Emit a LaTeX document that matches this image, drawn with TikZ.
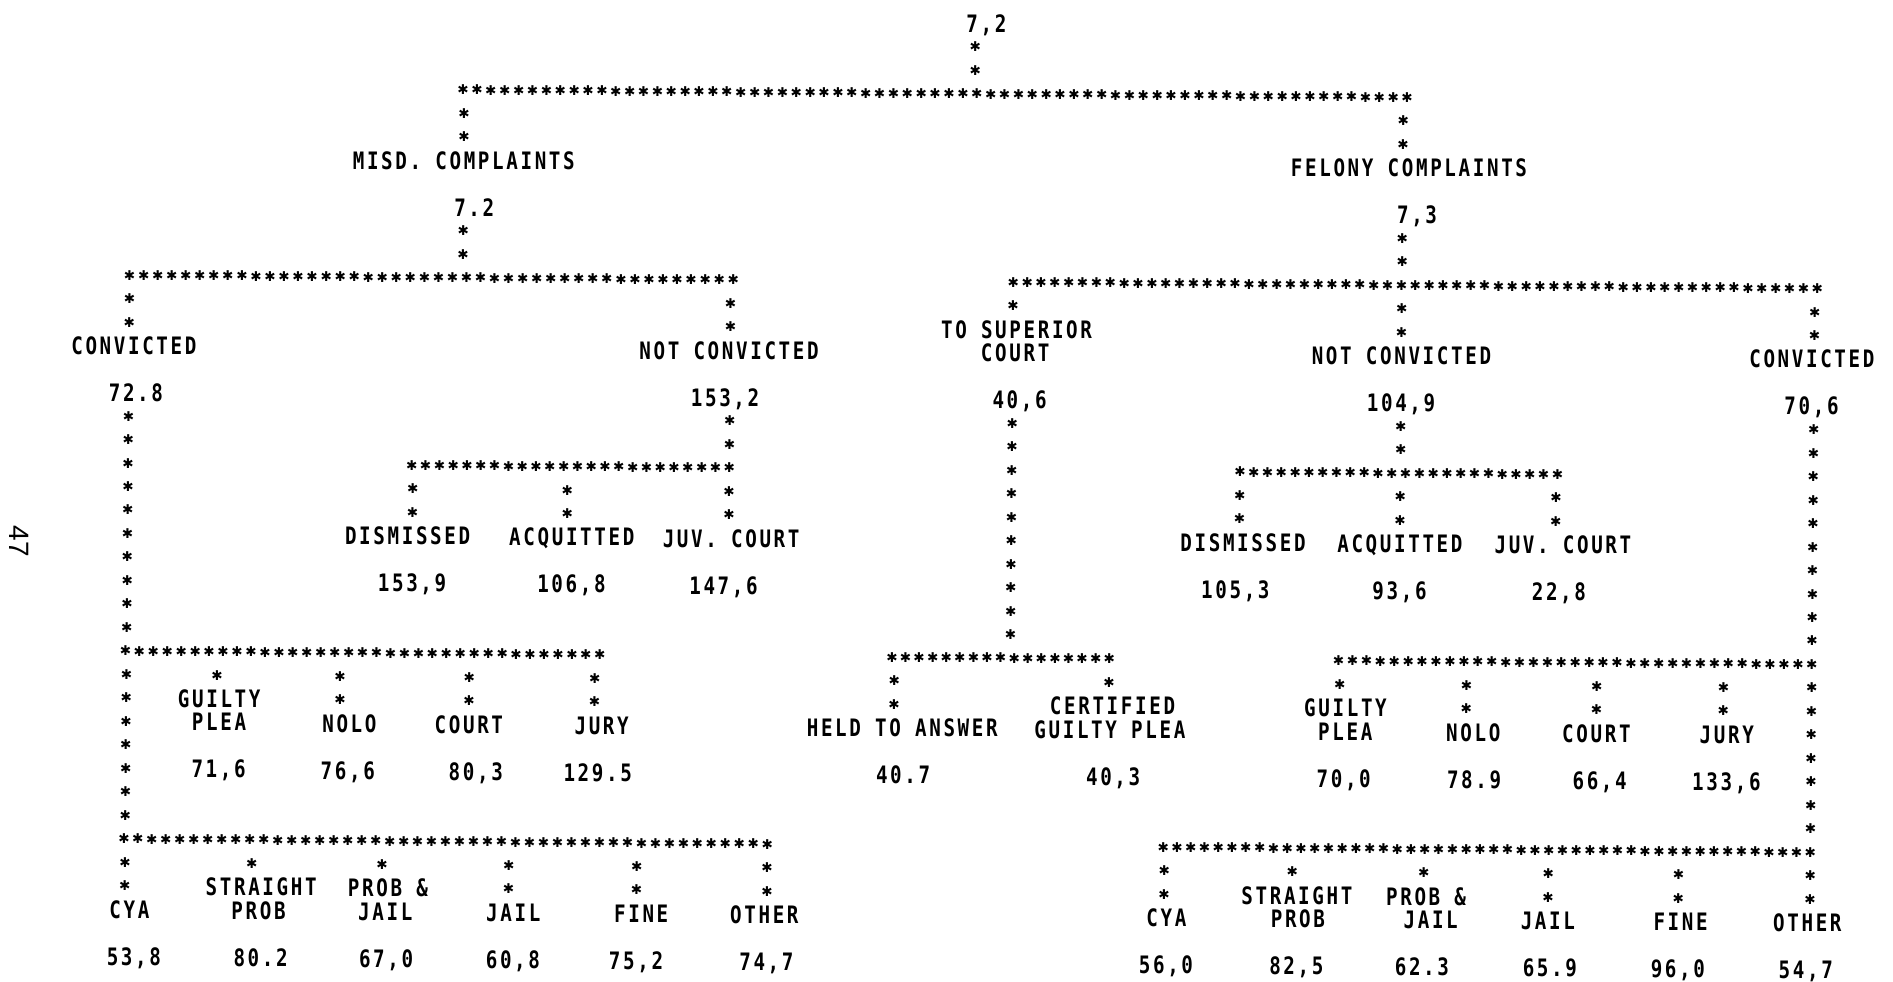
\documentclass[tikz,border=0pt]{standalone}
\usepackage{fontspec}
\newfontfamily\lpfont[FakeStretch=0.8, LetterSpace=11]{DejaVu Sans Mono}
\newfontfamily\astfont{DejaVu Sans}
\newfontfamily\pgfont{Liberation Sans}
\tikzset{
  lbl/.style={font=\lpfont\bfseries\fontsize{24}{24}\selectfont, inner sep=0pt, anchor=base, yshift=-8.75pt},
  ast/.style={font=\astfont\bfseries\fontsize{13.5}{13.5}\selectfont, inner sep=0pt, anchor=center},
  pgnum/.style={font=\pgfont\fontsize{28}{28}\selectfont, inner sep=0pt, rotate=-90},
}
\newcommand\LY[1]{15+19.45*(#1)}
\newcommand\st{✱}
% horizontal run of asterisks: name, x1, x2, line
\newcommand\hstars[4]{%
  \pgfmathtruncatemacro\nst{round((#3-#2)/11.5)}%
  \pgfmathsetmacro\stp{(#3-#2)/\nst}%
  \foreach \i in {0,...,\nst}{\node[ast] (#1-\i) at ({#2+\stp*\i},{\LY{#4}}) {\st};}%
}
% vertical run of asterisks: name, x, first line, last line
\newcommand\vstars[4]{%
  \foreach \k in {#3,...,#4}{\node[ast] (#1-\k) at (#2,{\LY{\k}}) {\st};}%
}
\begin{document}
\begin{tikzpicture}[x=1.20727pt,y=-1.20787pt]
\fill[white] (0,0) rectangle (1568,813);
\useasboundingbox (0,0) rectangle (1568,813);
\node[pgnum] (pg) at (16,448) {47};
\begin{scope}[rotate around={-0.46:(250,400)}]
% ---------- top ----------
\node[lbl] (top) at (814,{\LY{0}}) {7,2};
\vstars{t}{805}{1}{2}
\hstars{rA}{381}{1163}{3}
% ---------- misdemeanour branch ----------
\vstars{m}{382}{4}{5}
\node[lbl] (misd) at (382,{\LY{6}}) {MISD. COMPLAINTS};
\node[lbl] (misdv) at (391,{\LY{8}}) {7.2};
\vstars{mv}{382}{9}{10}
\hstars{rB}{106}{606}{11}
\vstars{lc}{106}{12}{13}
\node[lbl] (conv) at (110,{\LY{14}}) {CONVICTED};
\vstars{nc}{604}{12}{13}
\node[lbl] (nconv) at (603,{\LY{14}}) {NOT CONVICTED};
\node[lbl] (convv) at (112,{\LY{16}}) {72.8};
\node[lbl] (nconvv) at (600,{\LY{16}}) {153,2};
\vstars{lcol}{106}{17}{26}
\vstars{ncd}{604}{17}{18}
\hstars{rE}{341}{604}{19}
\vstars{ea}{342}{20}{21}
\vstars{eb}{470}{20}{21}
\vstars{ec}{604}{20}{21}
\node[lbl] (dis) at (338,{\LY{22}}) {DISMISSED};
\node[lbl] (acq) at (474,{\LY{22}}) {ACQUITTED};
\node[lbl] (juv) at (606,{\LY{22}}) {JUV. COURT};
\node[lbl] (disv) at (342,{\LY{24}}) {153,9};
\node[lbl] (acqv) at (474,{\LY{24}}) {106,8};
\node[lbl] (juvv) at (600,{\LY{24}}) {147,6};
\hstars{rD}{105}{498}{27}
\vstars{da}{181}{28}{28}
\vstars{db}{283}{28}{29}
\vstars{dc}{390}{28}{29}
\vstars{dd}{494}{28}{29}
\vstars{lcolb}{106}{28}{34}
\node[lbl] (gp1) at (183,{\LY{29}}) {GUILTY};
\node[lbl] (gp2) at (183,{\LY{30}}) {PLEA};
\node[lbl] (nolo) at (291,{\LY{30}}) {NOLO};
\node[lbl] (court) at (390,{\LY{30}}) {COURT};
\node[lbl] (jury) at (500,{\LY{30}}) {JURY};
\node[lbl] (gpv) at (183,{\LY{32}}) {71,6};
\node[lbl] (nolov) at (290,{\LY{32}}) {76,6};
\node[lbl] (courtv) at (396,{\LY{32}}) {80,3};
\node[lbl] (juryv) at (497,{\LY{32}}) {129.5};
\hstars{rF}{105}{638}{35}
\vstars{fa}{106}{36}{37}
\vstars{fb}{211}{36}{36}
\vstars{fc}{319}{36}{36}
\vstars{fd}{424}{36}{37}
\vstars{fe}{530}{36}{37}
\vstars{ff}{638}{36}{37}
\node[lbl] (st1) at (219,{\LY{37}}) {STRAIGHT};
\node[lbl] (pj1) at (324,{\LY{37}}) {PROB \&};
\node[lbl] (cya) at (110,{\LY{38}}) {CYA};
\node[lbl] (st2) at (217,{\LY{38}}) {PROB};
\node[lbl] (pj2) at (322,{\LY{38}}) {JAIL};
\node[lbl] (jail) at (428,{\LY{38}}) {JAIL};
\node[lbl] (fine) at (534,{\LY{38}}) {FINE};
\node[lbl] (oth) at (636,{\LY{38}}) {OTHER};
\node[lbl] (cyav) at (114,{\LY{40}}) {53,8};
\node[lbl] (stv) at (219,{\LY{40}}) {80.2};
\node[lbl] (pjv) at (323,{\LY{40}}) {67,0};
\node[lbl] (jailv) at (428,{\LY{40}}) {60,8};
\node[lbl] (finev) at (530,{\LY{40}}) {75,2};
\node[lbl] (othv) at (638,{\LY{40}}) {74,7};
% ---------- felony branch ----------
\vstars{g}{1160}{4}{5}
\node[lbl] (fel) at (1165,{\LY{6}}) {FELONY COMPLAINTS};
\node[lbl] (felv) at (1172,{\LY{8}}) {7,3};
\vstars{gv}{1160}{9}{10}
\hstars{rC}{838}{1504}{11}
\vstars{sa}{838}{12}{12}
\node[lbl] (sup1) at (841,{\LY{13}}) {TO SUPERIOR};
\node[lbl] (sup2) at (840,{\LY{14}}) {COURT};
\node[lbl] (supv) at (844,{\LY{16}}) {40,6};
\vstars{scol}{838}{17}{26}
\hstars{rG}{740}{920}{27}
\vstars{ga}{742}{28}{29}
\vstars{gb}{920}{28}{28}
\node[lbl] (held) at (749,{\LY{30}}) {HELD TO ANSWER};
\node[lbl] (cert1) at (923,{\LY{29}}) {CERTIFIED};
\node[lbl] (cert2) at (921,{\LY{30}}) {GUILTY PLEA};
\node[lbl] (heldv) at (750,{\LY{32}}) {40.7};
\node[lbl] (certv) at (924,{\LY{32}}) {40,3};
\vstars{na}{1160}{12}{13}
\node[lbl] (fnc) at (1160,{\LY{14}}) {NOT CONVICTED};
\node[lbl] (fncv) at (1160,{\LY{16}}) {104,9};
\vstars{nb}{1160}{17}{18}
\hstars{rH}{1027}{1290}{19}
\vstars{ha}{1027}{20}{21}
\vstars{hb}{1160}{20}{21}
\vstars{hc}{1289}{20}{21}
\node[lbl] (fdis) at (1030,{\LY{22}}) {DISMISSED};
\node[lbl] (facq) at (1160,{\LY{22}}) {ACQUITTED};
\node[lbl] (fjuv) at (1295,{\LY{22}}) {JUV. COURT};
\node[lbl] (fdisv) at (1024,{\LY{24}}) {105,3};
\node[lbl] (facqv) at (1160,{\LY{24}}) {93,6};
\node[lbl] (fjuvv) at (1292,{\LY{24}}) {22,8};
\vstars{ca}{1502}{12}{13}
\node[lbl] (fconv) at (1500,{\LY{14}}) {CONVICTED};
\node[lbl] (fconvv) at (1500,{\LY{16}}) {70,6};
\vstars{ccol}{1502}{17}{26}
\hstars{rI}{1110}{1502}{27}
\vstars{ia}{1111}{28}{28}
\vstars{ib}{1216}{28}{29}
\vstars{ic}{1324}{28}{29}
\vstars{id}{1429}{28}{29}
\vstars{ccolb}{1502}{28}{34}
\node[lbl] (fgp1) at (1116,{\LY{29}}) {GUILTY};
\node[lbl] (fgp2) at (1116,{\LY{30}}) {PLEA};
\node[lbl] (fnolo) at (1222,{\LY{30}}) {NOLO};
\node[lbl] (fcourt) at (1324,{\LY{30}}) {COURT};
\node[lbl] (fjury) at (1432,{\LY{30}}) {JURY};
\node[lbl] (fgpv) at (1115,{\LY{32}}) {70,0};
\node[lbl] (fnolov) at (1223,{\LY{32}}) {78.9};
\node[lbl] (fcourtv) at (1327,{\LY{32}}) {66,4};
\node[lbl] (fjuryv) at (1432,{\LY{32}}) {133,6};
\hstars{rJ}{966}{1502}{35}
\vstars{ja}{967}{36}{37}
\vstars{jb}{1073}{36}{36}
\vstars{jc}{1182}{36}{36}
\vstars{jd}{1285}{36}{37}
\vstars{je}{1393}{36}{37}
\vstars{jf}{1502}{36}{37}
\node[lbl] (fst1) at (1077,{\LY{37}}) {STRAIGHT};
\node[lbl] (fpj1) at (1184,{\LY{37}}) {PROB \&};
\node[lbl] (fcya) at (969,{\LY{38}}) {CYA};
\node[lbl] (fst2) at (1078,{\LY{38}}) {PROB};
\node[lbl] (fpj2) at (1188,{\LY{38}}) {JAIL};
\node[lbl] (fjail) at (1285,{\LY{38}}) {JAIL};
\node[lbl] (ffine) at (1395,{\LY{38}}) {FINE};
\node[lbl] (foth) at (1500,{\LY{38}}) {OTHER};
\node[lbl] (fcyav) at (969,{\LY{40}}) {56,0};
\node[lbl] (fstv) at (1077,{\LY{40}}) {82,5};
\node[lbl] (fpjv) at (1181,{\LY{40}}) {62.3};
\node[lbl] (fjailv) at (1287,{\LY{40}}) {65.9};
\node[lbl] (ffinev) at (1393,{\LY{40}}) {96,0};
\node[lbl] (fothv) at (1499,{\LY{40}}) {54,7};
\end{scope}
\end{tikzpicture}
\end{document}
